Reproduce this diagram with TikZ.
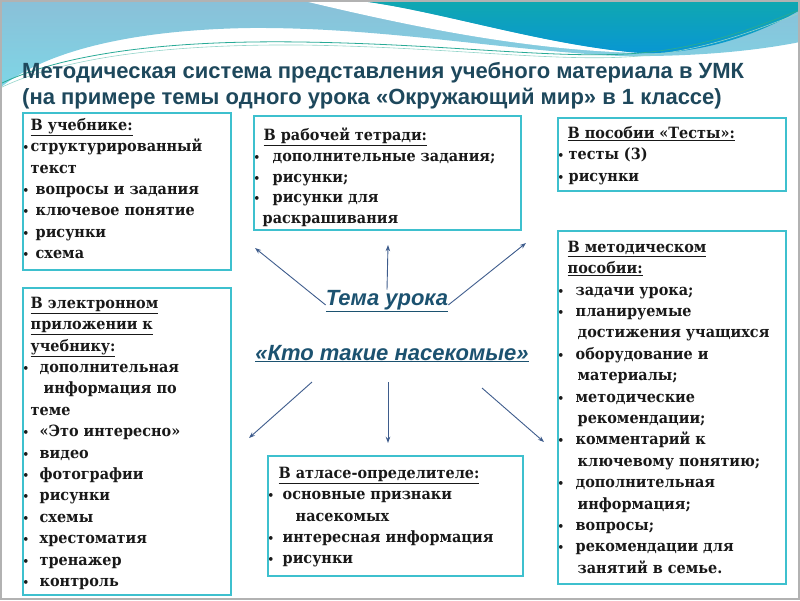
\documentclass[tikz,border=0pt]{standalone}
\usepackage{fontspec}
\setmainfont{DejaVu Serif}[FakeStretch=0.93]
\newfontfamily\sansf{Liberation Sans}
\usetikzlibrary{arrows.meta, shadows}

\definecolor{ramka}{RGB}{62,192,206}
\definecolor{zagol}{RGB}{30,72,92}
\definecolor{tema}{RGB}{28,82,112}
\definecolor{strelka}{RGB}{62,92,140}
\definecolor{volna}{RGB}{16,168,176}
\definecolor{volnab}{RGB}{8,150,212}
\definecolor{goluboy}{RGB}{138,192,216}
\definecolor{biruza}{RGB}{126,214,230}
\definecolor{liniya}{RGB}{40,170,150}

\newcommand{\punkt}[1]{\makebox[#1][l]{\fontsize{11}{11}\selectfont•}}

\begin{document}
\begin{tikzpicture}[x=1pt, y=-1pt, >={Stealth[length=2.2mm, width=1.6mm]},
  ramk/.style={draw=ramka, line width=1.8pt, fill=white, anchor=north west, inner sep=0pt,
    drop shadow={opacity=0.25, shadow xshift=1.5pt, shadow yshift=-1.5pt}},
  spisok/.style={anchor=north west, inner sep=0pt, align=left, text=black!90,
    font=\bfseries\fontsize{15.5}{21.4}\selectfont},
  strel/.style={->, draw=strelka, line width=0.9pt},
  temaf/.style={anchor=base, inner sep=0pt, text=tema,
    font=\sansf\bfseries\itshape\fontsize{22}{24}\selectfont}]
\useasboundingbox (0,0) rectangle (800,600);
% фон: волна сверху
\shade[top color=goluboy, bottom color=biruza] (0,0) -- (800,0) -- (800,42)
  .. controls (760,50) and (700,57) .. (620,56)
  .. controls (500,50) and (380,27) .. (250,28)
  .. controls (120,30) and (40,55) .. (0,88) -- cycle;
\fill[white] (300,0) -- (352,0) .. controls (430,8) and (540,45) .. (640,53)
  .. controls (520,50) and (400,24) .. (300,0) -- cycle;
\shade[top color=volna, bottom color=volnab] (352,0) .. controls (430,8) and (540,45) .. (640,53)
  .. controls (710,55) and (770,28) .. (800,10) -- (800,0) -- cycle;
\draw[liniya, line width=0.8pt] (0,84) .. controls (60,55) and (160,40) .. (300,42)
  .. controls (450,44) and (560,60) .. (640,53) .. controls (710,47) and (760,25) .. (800,10);
\draw[liniya!50, line width=0.6pt] (0,88) .. controls (60,59) and (160,44) .. (300,45)
  .. controls (450,47) and (560,63) .. (640,56) .. controls (710,50) and (760,28) .. (800,13);
\draw[gray!60, line width=2pt] (1,1) rectangle (799,599);

% заголовок
\node[anchor=north west, inner sep=0pt, align=left, text=zagol,
  font=\sansf\bfseries\fontsize{22}{26}\selectfont] (zag) at (22,61)
  {\rule{0pt}{17pt}Методическая система представления учебного материала в УМК\\
   (на примере темы одного урока «Окружающий мир» в 1 классе)};

% рамки
\node[ramk, minimum width=208pt, minimum height=157pt] (uchebnik) at (22,112) {};
\node[ramk, minimum width=267pt, minimum height=114pt] (tetrad) at (253,115) {};
\node[ramk, minimum width=228pt, minimum height=73pt] (testy) at (557,117) {};
\node[ramk, minimum width=208pt, minimum height=307pt] (elektr) at (22,287) {};
\node[ramk, minimum width=228pt, minimum height=353pt] (metod) at (557,230) {};
\node[ramk, minimum width=255pt, minimum height=120pt] (atlas) at (267,455) {};

% тексты в рамках
\node[spisok] (uchebnik-t) at (22.5,118) {\rule{0pt}{12pt}\hspace*{8pt}\underline{В учебнике:}\\
  \punkt{8pt}структурированный\\
  \hspace*{8pt}текст\\
  \punkt{13pt}вопросы и задания\\
  \punkt{13pt}ключевое понятие\\
  \punkt{13pt}рисунки\\
  \punkt{13pt}схема};
\node[spisok, font=\bfseries\fontsize{15.5}{20.7}\selectfont] (tetrad-t) at (253.5,128)
  {\rule{0pt}{12pt}\hspace*{10pt}\underline{В рабочей тетради:}\\
  \punkt{19pt}дополнительные задания;\\
  \punkt{19pt}рисунки;\\
  \punkt{19pt}рисунки для\\
  \hspace*{9pt}раскрашивания};
\node[spisok] (testy-t) at (557.5,126) {\rule{0pt}{12pt}\hspace*{10pt}\underline{В пособии «Тесты»:}\\
  \punkt{11pt}тесты (3)\\
  \punkt{11pt}рисунки};
\node[spisok] (elektr-t) at (22.5,296) {\rule{0pt}{12pt}\hspace*{8pt}\underline{В электронном}\\
  \hspace*{8pt}\underline{приложении к}\\
  \hspace*{8pt}\underline{учебнику:}\\
  \punkt{17pt}дополнительная\\
  \hspace*{21pt}информация по\\
  \hspace*{8pt}теме\\
  \punkt{17pt}«Это интересно»\\
  \punkt{17pt}видео\\
  \punkt{17pt}фотографии\\
  \punkt{17pt}рисунки\\
  \punkt{17pt}схемы\\
  \punkt{17pt}хрестоматия\\
  \punkt{17pt}тренажер\\
  \punkt{17pt}контроль};
\node[spisok] (metod-t) at (557.5,240) {\rule{0pt}{12pt}\hspace*{10pt}\underline{В методическом}\\
  \hspace*{10pt}\underline{пособии:}\\
  \punkt{18pt}задачи урока;\\
  \punkt{18pt}планируемые\\
  \hspace*{20pt}достижения учащихся\\
  \punkt{18pt}оборудование и\\
  \hspace*{20pt}материалы;\\
  \punkt{18pt}методические\\
  \hspace*{20pt}рекомендации;\\
  \punkt{18pt}комментарий к\\
  \hspace*{20pt}ключевому понятию;\\
  \punkt{18pt}дополнительная\\
  \hspace*{20pt}информация;\\
  \punkt{18pt}вопросы;\\
  \punkt{18pt}рекомендации для\\
  \hspace*{20pt}занятий в семье.};
\node[spisok] (atlas-t) at (267.5,466) {\rule{0pt}{12pt}\hspace*{11pt}\underline{В атласе-определителе:}\\
  \punkt{15pt}основные признаки\\
  \hspace*{28pt}насекомых\\
  \punkt{15pt}интересная информация\\
  \punkt{15pt}рисунки};

% тема урока в центре
\node[temaf] (tema) at (387,305) {\underline{Тема урока}};
\node[temaf] (kto) at (392,360) {\underline{«Кто такие насекомые»}};

% концы стрелок
\coordinate (k-uch) at (255,248);   \coordinate (k-tetr) at (388,245);  \coordinate (k-test) at (526,243);
\coordinate (k-el) at (249,438);    \coordinate (k-atlas) at (388,443); \coordinate (k-met) at (544,442);
\coordinate (n-el) at (312,382);    \coordinate (n-atlas) at (388,382); \coordinate (n-met) at (482,388);
\draw[strel] (tema.base west) -- (k-uch);
\draw[strel] (tema.north) -- (k-tetr);
\draw[strel] (tema.base east) -- (k-test);
\draw[strel] (n-el) -- (k-el);
\draw[strel] (n-atlas) -- (k-atlas);
\draw[strel] (n-met) -- (k-met);
\end{tikzpicture}
\end{document}
